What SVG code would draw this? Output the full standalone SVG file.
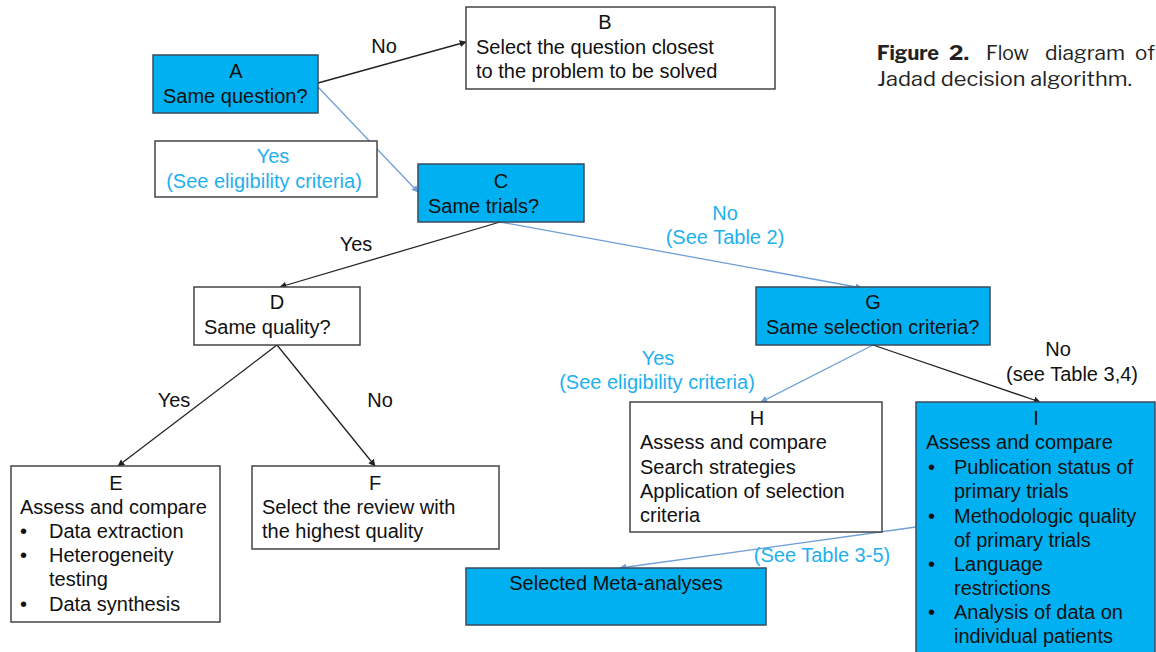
<svg xmlns="http://www.w3.org/2000/svg" width="1156" height="652" viewBox="0 0 1156 652">
<defs>
<marker id="ak" viewBox="0 0 10 10" refX="9" refY="5" markerWidth="7" markerHeight="7" orient="auto" markerUnits="userSpaceOnUse"><path d="M0,0 L10,5 L0,10 z" fill="#222"/></marker>
<marker id="ab" viewBox="0 0 10 10" refX="9" refY="5" markerWidth="7" markerHeight="7" orient="auto" markerUnits="userSpaceOnUse"><path d="M0,0 L10,5 L0,10 z" fill="#6f9fd8"/></marker>
</defs>
<style>
text{font-family:"Liberation Sans",Arial,sans-serif;font-size:20px;fill:#111}
.c{text-anchor:middle}
.cy{fill:#1fb0ee}
.bl{fill:#00b0f0;stroke:#3b4a5c;stroke-width:1.5}
.wh{fill:#fff;stroke:#444;stroke-width:1.5}
.k{stroke:#222;stroke-width:1.3;fill:none;marker-end:url(#ak)}
.b{stroke:#6f9fd8;stroke-width:1.3;fill:none;marker-end:url(#ab)}
.cap{font-family:"Libre Franklin","Liberation Sans",sans-serif;font-size:20px;fill:#222}
</style>
<rect width="1156" height="652" fill="#fff"/>
<g id="connectors">
<line class="k" x1="318" y1="83" x2="466" y2="42"/>
<line class="b" x1="318" y1="87" x2="418" y2="192"/>
<line class="k" x1="500" y1="222" x2="280" y2="287"/>
<line class="b" x1="500" y1="222" x2="862" y2="288"/>
<line class="k" x1="277" y1="345" x2="118" y2="466"/>
<line class="k" x1="277" y1="345" x2="375" y2="466"/>
<line class="b" x1="873" y1="345" x2="761" y2="402"/>
<line class="k" x1="873" y1="345" x2="1040" y2="402"/>
<line class="b" x1="916" y1="527" x2="620" y2="568"/>
<text x="384" y="53" class="c">No</text>
<text x="356" y="251" class="c">Yes</text>
<text x="725" y="220" class="c cy">No</text>
<text x="725" y="244" class="c cy">(See Table 2)</text>
<text x="174" y="407" class="c">Yes</text>
<text x="380" y="407" class="c">No</text>
<text x="658" y="365" class="c cy">Yes</text>
<text x="657" y="389" class="c cy">(See eligibility criteria)</text>
<text x="1058" y="356" class="c">No</text>
<text x="1072" y="381" class="c">(see Table 3,4)</text>
<text x="822" y="562" class="c cy">(See Table 3-5)</text>
</g>
<g id="yesA">
<rect class="wh" x="155" y="141" width="222" height="56"/>
<text x="273" y="163" class="c cy">Yes</text>
<text x="264" y="188" class="c cy">(See eligibility criteria)</text>
</g>
<g id="A">
<rect class="bl" x="153" y="55" width="165" height="58"/>
<text x="236" y="78" class="c">A</text>
<text x="163" y="103">Same question?</text>
</g>
<g id="B">
<rect class="wh" x="466" y="7" width="309" height="82"/>
<text x="605" y="29" class="c">B</text>
<text x="476" y="54">Select the question closest</text>
<text x="476" y="78">to the problem to be solved</text>
</g>
<g id="C">
<rect class="bl" x="418" y="164" width="166" height="58"/>
<text x="501" y="188" class="c">C</text>
<text x="428" y="213">Same trials?</text>
</g>
<g id="D">
<rect class="wh" x="194" y="287" width="166" height="58"/>
<text x="277" y="309" class="c">D</text>
<text x="204" y="334">Same quality?</text>
</g>
<g id="E">
<rect class="wh" x="11" y="466" width="209" height="156"/>
<text x="116" y="490" class="c">E</text>
<text x="20" y="514">Assess and compare</text>
<text x="20" y="538">•</text><text x="49" y="538">Data extraction</text>
<text x="20" y="562">•</text><text x="49" y="562">Heterogeneity</text>
<text x="49" y="586">testing</text>
<text x="20" y="611">•</text><text x="49" y="611">Data synthesis</text>
</g>
<g id="F">
<rect class="wh" x="252" y="466" width="247" height="83"/>
<text x="375" y="490" class="c">F</text>
<text x="262" y="514">Select the review with</text>
<text x="262" y="538">the highest quality</text>
</g>
<g id="G">
<rect class="bl" x="756" y="287" width="234" height="58"/>
<text x="873" y="309" class="c">G</text>
<text x="766" y="334">Same selection criteria?</text>
</g>
<g id="H">
<rect class="wh" x="630" y="402" width="252" height="130"/>
<text x="757" y="425" class="c">H</text>
<text x="640" y="449">Assess and compare</text>
<text x="640" y="474">Search strategies</text>
<text x="640" y="498">Application of selection</text>
<text x="640" y="522">criteria</text>
</g>
<g id="I">
<rect class="bl" x="916" y="402" width="239" height="262"/>
<text x="1036" y="425" class="c">I</text>
<text x="926" y="449">Assess and compare</text>
<text x="928" y="474">•</text><text x="954" y="474">Publication status of</text>
<text x="954" y="498">primary trials</text>
<text x="928" y="523">•</text><text x="954" y="523">Methodologic quality</text>
<text x="954" y="547">of primary trials</text>
<text x="928" y="571">•</text><text x="954" y="571">Language</text>
<text x="954" y="595">restrictions</text>
<text x="928" y="619">•</text><text x="954" y="619">Analysis of data on</text>
<text x="954" y="643">individual patients</text>
</g>
<g id="SM">
<rect class="bl" x="466" y="568" width="300" height="57"/>
<text x="616" y="590" class="c">Selected Meta-analyses</text>
</g>
<g id="caption">
<text class="cap" x="877" y="60" font-weight="bold" textLength="62" lengthAdjust="spacingAndGlyphs">Figure</text>
<text class="cap" x="949" y="60" font-weight="bold" textLength="20" lengthAdjust="spacingAndGlyphs">2.</text>
<text class="cap" x="986" y="60" textLength="43" lengthAdjust="spacingAndGlyphs">Flow</text>
<text class="cap" x="1045" y="60" textLength="80" lengthAdjust="spacingAndGlyphs">diagram</text>
<text class="cap" x="1135" y="60" textLength="20" lengthAdjust="spacingAndGlyphs">of</text>
<text class="cap" x="877" y="86" textLength="255" lengthAdjust="spacingAndGlyphs">Jadad decision algorithm.</text>
</g>
</svg>
